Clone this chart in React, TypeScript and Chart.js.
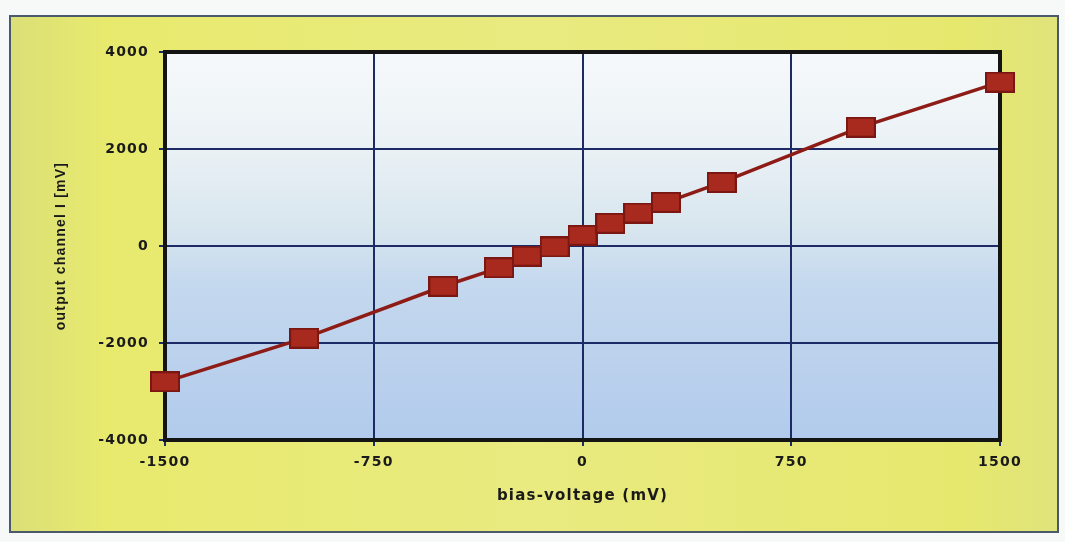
import React, { useEffect, useRef } from "react";
import { Chart, registerables } from "chart.js";

Chart.register(...registerables);

const biasVoltage = [-1500, -1000, -500, -300, -200, -100, 0, 100, 200, 300, 500, 1000, 1500];
const outputChannel = [-2800, -1900, -830, -450, -210, -20, 220, 470, 680, 900, 1310, 2450, 3380];
const xTicks = [-1500, -750, 0, 750, 1500];
const yTicks = [-4000, -2000, 0, 2000, 4000];

const xTitle = "bias-voltage (mV)";
const yTitle = "output channel I [mV]";

function makeMarker(): HTMLCanvasElement {
  const c = document.createElement("canvas");
  c.width = 30;
  c.height = 21;
  const g = c.getContext("2d")!;
  g.fillStyle = "#7a1712";
  g.fillRect(0, 0, 30, 21);
  g.fillStyle = "#a8291d";
  g.fillRect(2, 2, 26, 17);
  return c;
}

const backgroundPlugin = {
  id: "bgPlugin",
  beforeDraw(chart: any) {
    const { ctx, chartArea } = chart;
    const W = chart.width;
    const H = chart.height;
    ctx.save();
    ctx.fillStyle = "#f7f9f9";
    ctx.fillRect(0, 0, W, H);
    const yg = ctx.createLinearGradient(0, 0, W, 0);
    yg.addColorStop(0, "#d9de78");
    yg.addColorStop(0.1, "#e8ea6e");
    yg.addColorStop(0.5, "#e9ea80");
    yg.addColorStop(0.9, "#e6e86e");
    yg.addColorStop(1, "#dfe37c");
    ctx.fillStyle = yg;
    ctx.fillRect(10, 16, 1048, 516);
    ctx.strokeStyle = "#4a5a6a";
    ctx.lineWidth = 2;
    ctx.strokeRect(10, 16, 1048, 516);
    const pg = ctx.createLinearGradient(0, chartArea.top, 0, chartArea.bottom);
    pg.addColorStop(0, "#f6f9fb");
    pg.addColorStop(0.25, "#eaf1f5");
    pg.addColorStop(0.45, "#d8e6ee");
    pg.addColorStop(0.6, "#c4d8ee");
    pg.addColorStop(1, "#b2cbec");
    ctx.fillStyle = pg;
    ctx.fillRect(chartArea.left, chartArea.top, chartArea.right - chartArea.left, chartArea.bottom - chartArea.top);
    ctx.restore();
    ctx.letterSpacing = "1.2px";
  },
};

const borderPlugin = {
  id: "borderPlugin",
  beforeDatasetsDraw(chart: any) {
    const { ctx, chartArea } = chart;
    ctx.save();
    ctx.strokeStyle = "#141414";
    ctx.lineWidth = 4;
    ctx.strokeRect(chartArea.left, chartArea.top, chartArea.right - chartArea.left, chartArea.bottom - chartArea.top);
    ctx.restore();
  },
};

export default function App() {
  const ref = useRef<HTMLCanvasElement | null>(null);

  useEffect(() => {
    if (!ref.current) return;
    const marker = makeMarker();
    const family = "'DejaVu Sans', Verdana, sans-serif";
    const tickFont = { family, size: 14, weight: "bold" as const };
    const chart = new Chart(ref.current, {
      type: "scatter",
      data: {
        datasets: [
          {
            data: biasVoltage.map((x, i) => ({ x, y: outputChannel[i] })),
            showLine: true,
            borderColor: "#8e1c16",
            borderWidth: 3.5,
            pointStyle: marker as any,
            pointRadius: 12,
            pointHoverRadius: 12,
            clip: false as any,
          },
        ],
      },
      plugins: [backgroundPlugin, borderPlugin],
      options: {
        animation: false,
        responsive: false,
        maintainAspectRatio: false,
        layout: { padding: { top: 52, right: 65, bottom: 0, left: 0 } },
        plugins: { legend: { display: false }, tooltip: { enabled: false } },
        scales: {
          x: {
            type: "linear",
            min: -1500,
            max: 1500,
            afterBuildTicks: (scale: any) => {
              scale.ticks = xTicks.map((v) => ({ value: v }));
            },
            afterFit: (scale: any) => {
              scale.height = 102;
            },
            grid: { color: "#1c2a66", lineWidth: 2, tickLength: 6, tickColor: "#1c2a66" },
            border: { display: false },
            ticks: { color: "#1a1a1a", font: tickFont, padding: 8, autoSkip: false, maxRotation: 0, callback: (v: any) => String(v) },
            title: { display: true, text: xTitle, color: "#1a1a1a", font: { family, size: 15, weight: "bold" as const }, padding: { top: 0, bottom: 37 } },
          },
          y: {
            type: "linear",
            min: -4000,
            max: 4000,
            afterBuildTicks: (scale: any) => {
              scale.ticks = yTicks.map((v) => ({ value: v }));
            },
            afterFit: (scale: any) => {
              scale.width = 165;
            },
            grid: { color: "#1c2a66", lineWidth: 2, tickLength: 6, tickColor: "#1c2a66" },
            border: { display: false },
            ticks: { color: "#1a1a1a", font: tickFont, padding: 10, autoSkip: false, callback: (v: any) => String(v) },
            title: { display: true, text: yTitle, color: "#1a1a1a", font: { family: "'Liberation Sans Narrow', 'Liberation Sans', Arial, sans-serif", size: 14, weight: "bold" as const }, padding: { top: 53, bottom: 0 } },
          },
        },
      },
    });
    return () => chart.destroy();
  }, []);

  return (
    <div style={{ position: "absolute", left: 0, top: 0, width: 1065, height: 542 }}>
      <canvas ref={ref} width={1065} height={542} style={{ display: "block" }} />
    </div>
  );
}
